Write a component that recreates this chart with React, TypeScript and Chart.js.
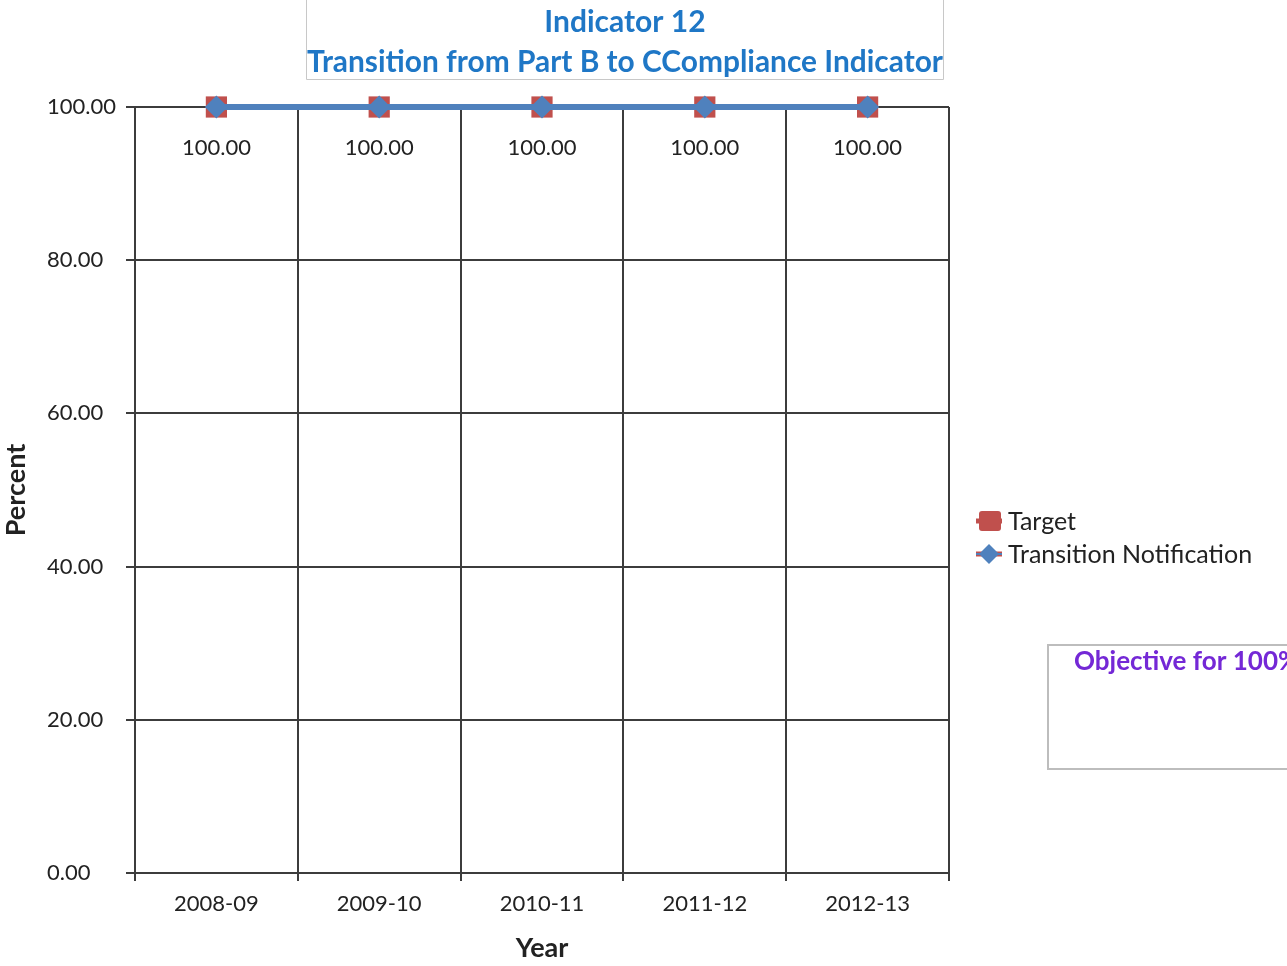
import React, { useEffect, useRef } from "react";
import { Chart, registerables } from "chart.js";

Chart.register(...registerables);

const categories = ["2008-09", "2009-10", "2010-11", "2011-12", "2012-13"];
const targetValues = [100, 100, 100, 100, 100];
const notificationValues = [100, 100, 100, 100, 100];
const titleLines = ["Indicator 12", "Transition from Part B to CCompliance Indicator"];
const seriesNames = ["Target", "Transition Notification"];
const yTitle = "Percent";
const xTitle = "Year";
const objectiveText = "Objective for 100%";

const FONT = "Lato, 'Open Sans', 'Liberation Sans', sans-serif";
const RED = "#c0504d";
const BLUE = "#4f81bd";
const TITLE_BLUE = "#1f77c6";
const PURPLE = "#7428d6";
const TEXT = "#222222";
const GRID = "#3c3c3c";

const decorPlugin = {
  id: "decor",
  afterDatasetsDraw(chart: any) {
    const ctx = chart.ctx as CanvasRenderingContext2D;
    ctx.save();
    const meta = chart.getDatasetMeta(1);
    ctx.font = `22px ${FONT}`;
    ctx.fillStyle = TEXT;
    ctx.textAlign = "center";
    ctx.textBaseline = "middle";
    meta.data.forEach((pt: any, i: number) => {
      ctx.fillText(notificationValues[i].toFixed(2), pt.x, pt.y + 41);
    });
    ctx.restore();
  },
  afterDraw(chart: any) {
    const ctx = chart.ctx as CanvasRenderingContext2D;
    const ca = chart.chartArea;
    ctx.save();
    // Title box (left, right, bottom borders)
    ctx.strokeStyle = "#c8c8c8";
    ctx.lineWidth = 1;
    ctx.beginPath();
    ctx.moveTo(306.5, 0);
    ctx.lineTo(306.5, 79.5);
    ctx.lineTo(943.5, 79.5);
    ctx.lineTo(943.5, 0);
    ctx.stroke();
    ctx.fillStyle = TITLE_BLUE;
    ctx.textAlign = "center";
    ctx.textBaseline = "middle";
    ctx.font = `bold 30px ${FONT}`;
    ctx.fillText(titleLines[0], 625, 22);
    ctx.fillText(titleLines[1], 625, 62, 636);

    // Axis titles
    ctx.fillStyle = TEXT;
    ctx.font = `bold 27px ${FONT}`;
    ctx.fillText(xTitle, (ca.left + ca.right) / 2, 948);
    ctx.save();
    ctx.translate(16, (ca.top + ca.bottom) / 2);
    ctx.rotate(-Math.PI / 2);
    ctx.fillText(yTitle, 0, 0);
    ctx.restore();

    // Legend
    ctx.textAlign = "left";
    ctx.font = `25px ${FONT}`;
    // Target
    ctx.strokeStyle = RED;
    ctx.lineWidth = 5;
    ctx.beginPath();
    ctx.moveTo(976, 521);
    ctx.lineTo(1002, 521);
    ctx.stroke();
    ctx.fillStyle = RED;
    ctx.beginPath();
    (ctx as any).roundRect(979, 511, 22, 20, 3);
    ctx.fill();
    ctx.fillStyle = TEXT;
    ctx.fillText(seriesNames[0], 1008, 522);
    // Transition Notification
    ctx.strokeStyle = RED;
    ctx.lineWidth = 5;
    ctx.beginPath();
    ctx.moveTo(976, 554);
    ctx.lineTo(1002, 554);
    ctx.stroke();
    ctx.strokeStyle = BLUE;
    ctx.lineWidth = 2;
    ctx.beginPath();
    ctx.moveTo(976, 554);
    ctx.lineTo(1002, 554);
    ctx.stroke();
    ctx.fillStyle = BLUE;
    ctx.beginPath();
    ctx.moveTo(989, 544);
    ctx.lineTo(999, 554);
    ctx.lineTo(989, 564);
    ctx.lineTo(979, 554);
    ctx.closePath();
    ctx.fill();
    ctx.fillStyle = TEXT;
    ctx.fillText(seriesNames[1], 1008, 555);

    // Objective box
    ctx.strokeStyle = "#bdbdbd";
    ctx.lineWidth = 2;
    ctx.strokeRect(1048, 645, 260, 124);
    ctx.fillStyle = PURPLE;
    ctx.font = `bold 26px ${FONT}`;
    ctx.fillText(objectiveText, 1074, 662);
    ctx.restore();
  },
};

export default function App() {
  const ref = useRef<HTMLCanvasElement | null>(null);
  useEffect(() => {
    if (!ref.current) return;
    const chart = new Chart(ref.current, {
      type: "line",
      data: {
        labels: categories,
        datasets: [
          {
            label: seriesNames[0],
            data: targetValues,
            order: 2,
            clip: false,
            borderColor: RED,
            backgroundColor: RED,
            borderWidth: 6,
            pointStyle: "rect",
            pointRadius: 15,
            pointBorderWidth: 0,
            pointBackgroundColor: RED,
          },
          {
            label: seriesNames[1],
            data: notificationValues,
            order: 1,
            clip: false,
            borderColor: BLUE,
            backgroundColor: BLUE,
            borderWidth: 6,
            pointStyle: "rectRot",
            pointRadius: 11.5,
            pointBorderWidth: 0,
            pointBackgroundColor: BLUE,
          },
        ],
      },
      options: {
        responsive: false,
        animation: false,
        layout: { padding: { top: 107, right: 338, left: 47, bottom: 0 } },
        plugins: {
          legend: { display: false },
          tooltip: { enabled: false },
          title: { display: false },
        },
        scales: {
          x: {
            offset: true,
            afterFit: (s: any) => {
              s.height = 93;
            },
            grid: {
              offset: true,
              color: GRID,
              lineWidth: 2,
              tickLength: 8,
              drawTicks: true,
            },
            border: { color: GRID, width: 2 },
            ticks: {
              color: TEXT,
              font: { family: FONT, size: 22 },
              padding: 10,
              maxRotation: 0,
            },
          },
          y: {
            min: 0,
            max: 100,
            afterFit: (s: any) => {
              s.width = 88;
            },
            grid: {
              color: GRID,
              lineWidth: 2,
              tickLength: 9,
              drawTicks: true,
            },
            border: { color: GRID, width: 2 },
            ticks: {
              stepSize: 20,
              color: TEXT,
              crossAlign: "far",
              font: { family: FONT, size: 22 },
              padding: 8,
              callback: (v: any) => Number(v).toFixed(2),
            },
          },
        },
      },
      plugins: [decorPlugin],
    });
    return () => chart.destroy();
  }, []);
  return (
    <div style={{ position: "absolute", left: 0, top: 0, width: 1287, height: 966, background: "#fff" }}>
      <canvas ref={ref} width={1287} height={966} style={{ display: "block" }} />
    </div>
  );
}
